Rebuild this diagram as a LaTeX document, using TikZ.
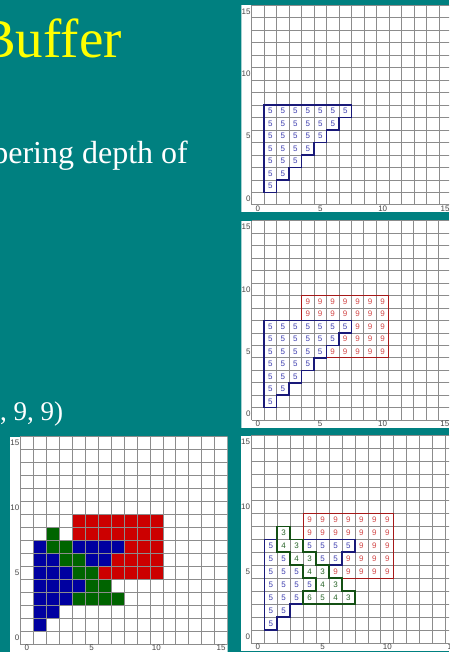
\documentclass[tikz,border=0pt]{standalone}
\usepackage{fontspec}
\setmainfont{Liberation Serif}
\setsansfont{Liberation Sans}
\definecolor{slide}{RGB}{0,128,128}
\definecolor{titleyel}{RGB}{255,255,0}
\definecolor{gridgray}{RGB}{140,140,140}
\definecolor{labgray}{RGB}{70,70,70}
\definecolor{zblue}{RGB}{0,0,160}
\definecolor{zgreen}{RGB}{0,100,0}
\definecolor{zred}{RGB}{204,0,0}
\definecolor{blueedge}{RGB}{25,25,120}
\definecolor{rededge}{RGB}{165,25,25}
\definecolor{greenedge}{RGB}{20,80,20}
\definecolor{bluenum}{RGB}{60,60,175}
\definecolor{rednum}{RGB}{210,70,70}
\definecolor{greennum}{RGB}{40,100,40}

\tikzset{
  gridline/.style={gridgray, line width=0.7pt},
  axlabel/.style={font=\sffamily\fontsize{8}{8}\selectfont, text=labgray, inner sep=1pt},
  digit/.style={font=\sffamily\fontsize{8}{8}\selectfont, inner sep=0pt},
  bluerim/.style={blueedge, line width=1.5pt},
  redrim/.style={rededge, line width=1.2pt},
  greenrim/.style={greenedge, line width=1.5pt}
}

% one 16x16 pixel panel with its axis numbers
\newcommand{\gridpanel}{%
  \clip (-1.32,-1.1) rectangle (15.5,15.5);
  \fill[white] (-1.32,-1.1) rectangle (15.5,15.5);
}
\newcommand{\gridlines}{%
  \foreach \k in {0,...,16} {
    \draw[gridline] (\k-0.5,-0.5) -- (\k-0.5,15.5);
    \draw[gridline] (-0.5,\k-0.5) -- (15.5,\k-0.5);
  }
  \foreach \k in {0,5,10,15} {
    \node[axlabel, anchor=east] at (-0.5,\k) {\k};
    \node[axlabel, anchor=north] at (\k,-0.5) {\k};
  }
}
\newcommand{\bluestair}{(0.5,0.5) -- (0.5,7.5) -- (7.5,7.5) -- (7.5,6.5) -- (6.5,6.5)
  -- (6.5,5.5) -- (5.5,5.5) -- (5.5,4.5) -- (4.5,4.5) -- (4.5,3.5) -- (3.5,3.5)
  -- (3.5,2.5) -- (2.5,2.5) -- (2.5,1.5) -- (1.5,1.5) -- (1.5,0.5) -- cycle}
\newcommand{\greenpart}{(1.5,8.5) -- (2.5,8.5) -- (2.5,7.5) -- (3.5,7.5) -- (3.5,6.5)
  -- (4.5,6.5) -- (4.5,5.5) -- (5.5,5.5) -- (5.5,4.5) -- (6.5,4.5) -- (6.5,3.5)
  -- (7.5,3.5) -- (7.5,2.5) -- (3.5,2.5) -- (3.5,3.5) -- (4.5,3.5) -- (4.5,4.5)
  -- (3.5,4.5) -- (3.5,5.5) -- (2.5,5.5) -- (2.5,6.5) -- (1.5,6.5) -- cycle}

\begin{document}
\begin{tikzpicture}[x=1pt, y=-1pt]
    % slide background
    \useasboundingbox (0,0) rectangle (449,652);
    \clip (0,0) rectangle (449,652);
    \fill[slide] (0,0) rectangle (449,652);
    % slide text
    \node[anchor=base east, text=titleyel, inner sep=0pt,
          font=\fontsize{55}{60}\selectfont] (title) at (122,57.3) {Buffer};
    \node[anchor=base east, text=white, inner sep=0pt,
          font=\fontsize{32}{38}\selectfont] (line1) at (188,163.3) {pering depth of};
    \node[anchor=base east, text=white, inner sep=0pt,
          font=\fontsize{27}{32}\selectfont] (line2) at (63.3,420.5) {, 9, 9)};

    % panel 1: first polygon, depth 5
    \begin{scope}[shift={(257.9,198.6)}, x=12.48pt, y=12.48pt]
      \gridpanel
      \gridlines
      \foreach \y in {1,...,7}
        \foreach \x in {1,...,\y}
          \node[digit, text=bluenum] at (\x,\y) {5};
      \draw[bluerim] \bluestair;
    \end{scope}

    % panel 2: second polygon, depth 9
    \begin{scope}[shift={(257.9,413.9)}, x=12.46pt, y=12.46pt]
      \gridpanel
      \gridlines
      \foreach \y in {1,...,7}
        \foreach \x in {1,...,\y}
          \node[digit, text=bluenum] at (\x,\y) {5};
      \foreach \y/\xs in {9/4, 8/4, 7/8, 6/7, 5/6}
        \foreach \x in {\xs,...,10}
          \node[digit, text=rednum] at (\x,\y) {9};
      \draw[redrim] (3.5,7.5) -- (3.5,9.5) -- (10.5,9.5) -- (10.5,4.5) -- (5.5,4.5);
      \draw[bluerim] \bluestair;
    \end{scope}

    % panel 3: frame buffer colours
    \begin{scope}[shift={(26.9,637.5)}, x=12.95pt, y=12.95pt]
      \gridpanel
      \fill[zred] (3.5,4.5) rectangle (10.5,9.5);
      \fill[zblue] \bluestair;
      \fill[zgreen] \greenpart;
      \gridlines
    \end{scope}

    % panel 4: z-buffer values
    \begin{scope}[shift={(257.8,636.4)}, x=12.95pt, y=12.95pt]
      \gridpanel
      \gridlines
      \foreach \x/\y in {1/1, 1/2, 2/2, 1/3, 2/3, 3/3, 1/4, 2/4, 3/4, 4/4,
                         1/5, 2/5, 3/5, 1/6, 2/6, 5/6, 6/6, 1/7, 4/7, 5/7, 6/7, 7/7}
        \node[digit, text=bluenum] at (\x,\y) {5};
      \foreach \y/\xs in {9/4, 8/4, 7/8, 6/7, 5/6}
        \foreach \x in {\xs,...,10}
          \node[digit, text=rednum] at (\x,\y) {9};
      \foreach \x/\y/\d in {2/8/3, 2/7/4, 3/7/3, 3/6/4, 4/6/3, 4/5/4, 5/5/3,
                            5/4/4, 6/4/3, 4/3/6, 5/3/5, 6/3/4, 7/3/3}
        \node[digit, text=greennum] at (\x,\y) {\d};
      \draw[bluerim] (1.5,7.5) -- (0.5,7.5) -- (0.5,0.5) -- (1.5,0.5) -- (1.5,1.5)
        -- (2.5,1.5) -- (2.5,2.5) -- (3.5,2.5);
      \draw[bluerim] (3.5,7.5) -- (7.5,7.5) -- (7.5,6.5) -- (6.5,6.5) -- (6.5,5.5) -- (4.5,5.5);
      \draw[redrim] (3.5,7.5) -- (3.5,9.5) -- (10.5,9.5) -- (10.5,4.5) -- (6.5,4.5);
      \draw[greenrim] \greenpart;
    \end{scope}
\end{tikzpicture}
\end{document}
